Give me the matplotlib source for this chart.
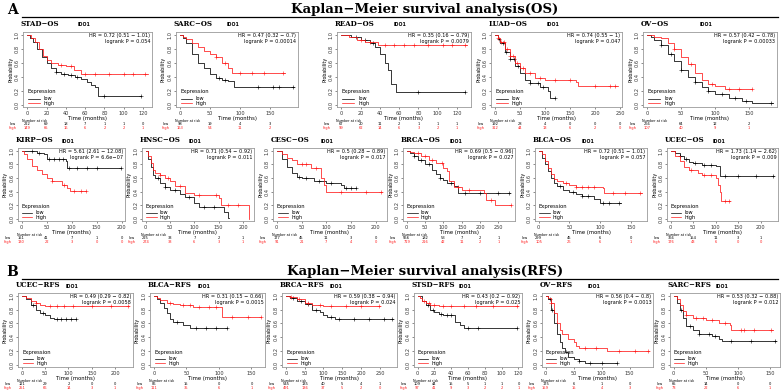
import numpy as np
import matplotlib
matplotlib.use('Agg')
import matplotlib.pyplot as plt
from matplotlib.transforms import blended_transform_factory

# ---- 數據 (由圖讀出的估計值) ----
# 每條曲線: (時間, 存活率) 階梯節點; *_CENS: 刪失時間
STAD_OS_LOW = [(0, 1.0), (3, 0.95), (6, 0.9), (10, 0.8), (15, 0.68), (20, 0.6), (25, 0.52), (30, 0.47),
               (35, 0.44), (42, 0.42), (50, 0.4), (56, 0.37), (62, 0.33), (66, 0.29), (70, 0.25), (73, 0.12), (118, 0.12)]
STAD_OS_HIGH = [(0, 1.0), (4, 0.95), (8, 0.9), (12, 0.8), (16, 0.7), (20, 0.64), (25, 0.6), (32, 0.57),
                (40, 0.55), (48, 0.5), (56, 0.44), (125, 0.44)]
STAD_OS_LOW_CENS = [30, 38, 45, 52, 80, 118]
STAD_OS_HIGH_CENS = [35, 45, 60, 70, 85, 100, 110, 122]

SARC_OS_LOW = [(0, 1.0), (5, 0.95), (10, 0.88), (20, 0.72), (30, 0.6), (40, 0.52), (50, 0.44), (60, 0.38),
               (70, 0.36), (80, 0.34), (90, 0.25), (190, 0.25)]
SARC_OS_HIGH = [(0, 1.0), (5, 0.97), (10, 0.94), (20, 0.88), (30, 0.82), (40, 0.77), (50, 0.73), (60, 0.68),
                (70, 0.6), (80, 0.52), (86, 0.46), (175, 0.46)]
SARC_OS_LOW_CENS = [65, 75, 130, 155, 165, 188]
SARC_OS_HIGH_CENS = [60, 75, 100, 120, 140, 172]

READ_OS_LOW = [(0, 1.0), (10, 0.97), (20, 0.93), (30, 0.88), (35, 0.82), (40, 0.72), (45, 0.6), (48, 0.5),
               (52, 0.3), (57, 0.18), (128, 0.18)]
READ_OS_HIGH = [(0, 1.0), (8, 0.97), (16, 0.93), (25, 0.9), (38, 0.86), (130, 0.85)]
READ_OS_LOW_CENS = [15, 25, 33, 80, 128]
READ_OS_HIGH_CENS = [20, 30, 45, 55, 65, 75, 90, 105, 115, 128]

LUAD_OS_LOW = [(0, 1.0), (5, 0.94), (10, 0.88), (20, 0.76), (30, 0.65), (40, 0.56), (50, 0.45), (60, 0.35),
               (70, 0.31), (90, 0.25), (105, 0.2), (110, 0.1), (120, 0.1)]
LUAD_OS_HIGH = [(0, 1.0), (5, 0.95), (10, 0.9), (20, 0.8), (30, 0.7), (40, 0.6), (50, 0.52), (60, 0.46),
                (80, 0.38), (100, 0.35), (162, 0.33), (165, 0.27), (245, 0.27)]
LUAD_OS_LOW_CENS = [8, 15, 22, 30, 38, 45, 70, 85, 95, 120]
LUAD_OS_HIGH_CENS = [6, 12, 18, 24, 30, 36, 44, 55, 70, 90, 120, 150, 200, 230, 240]

OV_OS_LOW = [(0, 1.0), (5, 0.97), (10, 0.93), (20, 0.85), (30, 0.72), (40, 0.62), (50, 0.5), (60, 0.4),
             (70, 0.32), (80, 0.25), (90, 0.2), (100, 0.15), (120, 0.1), (140, 0.06), (155, 0.03), (185, 0.03)]
OV_OS_HIGH = [(0, 1.0), (10, 0.97), (20, 0.95), (30, 0.88), (40, 0.8), (50, 0.68), (60, 0.58), (70, 0.45),
              (80, 0.35), (90, 0.3), (100, 0.27), (115, 0.22), (155, 0.22)]
OV_OS_LOW_CENS = [20, 35, 50, 70, 90, 110, 130, 145, 183]
OV_OS_HIGH_CENS = [40, 65, 95, 120, 135, 155]

KIRP_OS_LOW = [(0, 1.0), (10, 0.99), (30, 0.97), (45, 0.95), (50, 0.88), (88, 0.85), (91, 0.75), (198, 0.75)]
KIRP_OS_HIGH = [(0, 1.0), (5, 0.95), (10, 0.88), (20, 0.78), (30, 0.72), (40, 0.66), (50, 0.6), (60, 0.56),
                (80, 0.5), (90, 0.45), (96, 0.41), (128, 0.41)]
KIRP_OS_LOW_CENS = [20, 35, 55, 65, 75, 82, 95, 110, 130, 150, 198]
KIRP_OS_HIGH_CENS = [60, 85, 105, 118, 128]

HNSC_OS_LOW = [(0, 1.0), (5, 0.88), (10, 0.76), (15, 0.65), (20, 0.6), (30, 0.52), (40, 0.47), (50, 0.43),
               (70, 0.36), (80, 0.32), (100, 0.24), (110, 0.17), (160, 0.1), (170, 0.02), (172, 0.02)]
HNSC_OS_HIGH = [(0, 1.0), (5, 0.92), (10, 0.82), (15, 0.72), (20, 0.68), (30, 0.64), (40, 0.6), (50, 0.56),
                (60, 0.48), (80, 0.38), (100, 0.35), (150, 0.3), (155, 0.2), (212, 0.0), (213, 0.0)]
HNSC_OS_LOW_CENS = [25, 40, 60, 90, 120, 140]
HNSC_OS_HIGH_CENS = [30, 45, 70, 110, 145, 170, 190]

CESC_OS_LOW = [(0, 1.0), (10, 0.88), (20, 0.76), (30, 0.67), (40, 0.62), (50, 0.6), (75, 0.56), (100, 0.52),
               (130, 0.5), (135, 0.46), (160, 0.46)]
CESC_OS_HIGH = [(0, 1.0), (10, 0.95), (20, 0.9), (30, 0.86), (40, 0.8), (70, 0.75), (90, 0.6), (95, 0.5),
                (100, 0.4), (213, 0.39)]
CESC_OS_LOW_CENS = [45, 60, 85, 110, 140, 150, 160]
CESC_OS_HIGH_CENS = [50, 60, 80, 130, 180, 210]

BRCA_OS_LOW = [(0, 1.0), (10, 0.97), (20, 0.92), (30, 0.87), (50, 0.8), (70, 0.72), (80, 0.66), (90, 0.6),
               (100, 0.57), (110, 0.53), (130, 0.48), (140, 0.38), (280, 0.38)]
BRCA_OS_HIGH = [(0, 1.0), (10, 0.98), (20, 0.96), (40, 0.92), (60, 0.86), (80, 0.82), (100, 0.75), (110, 0.7),
                (115, 0.55), (130, 0.47), (150, 0.43), (210, 0.38), (215, 0.28), (240, 0.2), (285, 0.2)]
BRCA_OS_LOW_CENS = [20, 40, 60, 90, 120, 160, 200, 250, 278]
BRCA_OS_HIGH_CENS = [30, 50, 70, 95, 140, 170, 230, 283]

BLCA_OS_LOW = [(0, 1.0), (5, 0.9), (10, 0.8), (15, 0.7), (20, 0.6), (25, 0.52), (30, 0.48), (40, 0.43),
               (50, 0.4), (60, 0.36), (70, 0.33), (90, 0.29), (100, 0.24), (133, 0.24)]
BLCA_OS_HIGH = [(0, 1.0), (5, 0.95), (10, 0.85), (15, 0.75), (20, 0.66), (25, 0.58), (30, 0.55), (40, 0.53),
                (50, 0.5), (60, 0.47), (104, 0.46), (106, 0.38), (168, 0.38)]
BLCA_OS_LOW_CENS = [35, 55, 70, 80, 105, 115, 130]
BLCA_OS_HIGH_CENS = [45, 60, 70, 80, 90, 120, 140, 165]

UCEC_OS_LOW = [(0, 1.0), (10, 0.97), (20, 0.92), (30, 0.88), (40, 0.84), (50, 0.82), (70, 0.79), (100, 0.77),
               (110, 0.63), (230, 0.63)]
UCEC_OS_HIGH = [(0, 1.0), (10, 0.93), (20, 0.85), (30, 0.76), (40, 0.72), (60, 0.68), (70, 0.65), (100, 0.6),
                (105, 0.5), (110, 0.4), (112, 0.26), (132, 0.26)]
UCEC_OS_LOW_CENS = [20, 35, 55, 75, 90, 120, 150, 190, 228]
UCEC_OS_HIGH_CENS = [45, 75, 90, 120, 130]

UCEC_RFS_LOW = [(0, 1.0), (10, 0.95), (20, 0.87), (30, 0.8), (40, 0.75), (50, 0.72), (60, 0.68), (70, 0.66),
                (115, 0.66)]
UCEC_RFS_HIGH = [(0, 1.0), (10, 0.97), (20, 0.92), (30, 0.89), (40, 0.87), (50, 0.85), (230, 0.85)]
UCEC_RFS_LOW_CENS = [25, 45, 75, 85, 95, 105, 115]
UCEC_RFS_HIGH_CENS = [30, 60, 75, 90, 110, 150, 190, 228]

BLCA_RFS_LOW = [(0, 1.0), (5, 0.95), (10, 0.9), (15, 0.82), (20, 0.75), (25, 0.67), (30, 0.62), (45, 0.58),
                (55, 0.53), (112, 0.53)]
BLCA_RFS_HIGH = [(0, 1.0), (5, 0.97), (10, 0.94), (20, 0.9), (30, 0.88), (40, 0.87), (60, 0.84), (102, 0.84),
                 (104, 0.7), (165, 0.7)]
BLCA_RFS_LOW_CENS = [35, 65, 80, 95, 112]
BLCA_RFS_HIGH_CENS = [25, 45, 55, 70, 85, 95, 120, 145, 165]

BRCA_RFS_LOW = [(0, 1.0), (10, 0.97), (30, 0.93), (50, 0.88), (70, 0.8), (90, 0.77), (100, 0.72), (110, 0.7),
                (130, 0.66), (285, 0.66)]
BRCA_RFS_HIGH = [(0, 1.0), (10, 0.98), (30, 0.95), (50, 0.9), (70, 0.87), (80, 0.86), (100, 0.85), (250, 0.85)]
BRCA_RFS_LOW_CENS = [20, 40, 60, 80, 120, 140, 180, 220, 260, 283]
BRCA_RFS_HIGH_CENS = [15, 35, 60, 90, 120, 160, 200, 248]

STSD_RFS_LOW = [(0, 1.0), (5, 0.93), (10, 0.87), (15, 0.8), (20, 0.76), (25, 0.73), (30, 0.72), (42, 0.72),
                (44, 0.62), (50, 0.58), (55, 0.53), (118, 0.53)]
STSD_RFS_HIGH = [(0, 1.0), (3, 0.97), (5, 0.93), (10, 0.89), (15, 0.86), (25, 0.85), (120, 0.85)]
STSD_RFS_LOW_CENS = [12, 18, 28, 35, 40, 60, 72, 118]
STSD_RFS_HIGH_CENS = [8, 14, 20, 30, 40, 55, 70, 90, 118]

OV_RFS_LOW = [(0, 1.0), (5, 0.95), (10, 0.8), (15, 0.6), (20, 0.45), (25, 0.33), (30, 0.25), (35, 0.18),
              (40, 0.12), (50, 0.08), (60, 0.05), (70, 0.03), (128, 0.03)]
OV_RFS_HIGH = [(0, 1.0), (5, 0.97), (10, 0.9), (15, 0.75), (20, 0.6), (25, 0.5), (30, 0.44), (40, 0.37),
               (50, 0.33), (55, 0.28), (60, 0.24), (110, 0.2), (185, 0.2)]
OV_RFS_LOW_CENS = [8, 12, 60, 80, 100, 128]
OV_RFS_HIGH_CENS = [10, 70, 90, 130, 160, 183]

SARC_RFS_LOW = [(0, 1.0), (5, 0.9), (10, 0.8), (15, 0.68), (20, 0.57), (30, 0.5), (40, 0.44), (60, 0.42),
                (70, 0.37), (75, 0.34), (160, 0.34)]
SARC_RFS_HIGH = [(0, 1.0), (5, 0.95), (10, 0.86), (15, 0.78), (20, 0.72), (30, 0.68), (50, 0.65), (70, 0.6),
                 (88, 0.58), (90, 0.5), (155, 0.5)]
SARC_RFS_LOW_CENS = [12, 25, 40, 55, 65, 90, 120, 158]
SARC_RFS_HIGH_CENS = [20, 35, 45, 60, 80, 105, 110, 125, 152]

PANEL_NAMES = ['STAD−OS', 'SARC−OS', 'READ−OS', 'LUAD−OS', 'OV−OS',
               'KIRP−OS', 'HNSC−OS', 'CESC−OS', 'BRCA−OS', 'BLCA−OS', 'UCEC−OS',
               'UCEC−RFS', 'BLCA−RFS', 'BRCA−RFS', 'STSD−RFS', 'OV−RFS', 'SARC−RFS']
HR_TEXT = ['0.72 (0.51 − 1.01)', '0.47 (0.32 − 0.7)', '0.35 (0.16 − 0.79)', '0.74 (0.55 − 1)', '0.57 (0.42 − 0.78)',
           '5.61 (2.61 − 12.08)', '0.71 (0.54 − 0.92)', '0.5 (0.28 − 0.89)', '0.69 (0.5 − 0.96)',
           '0.72 (0.51 − 1.01)', '1.73 (1.14 − 2.62)',
           '0.49 (0.29 − 0.82)', '0.31 (0.15 − 0.66)', '0.59 (0.38 − 0.94)', '0.43 (0.2 − 0.92)',
           '0.56 (0.4 − 0.8)', '0.53 (0.32 − 0.88)']
P_TEXT = ['0.054', '0.00014', '0.0079', '0.047', '0.00033',
          '6.6e−07', '0.011', '0.017', '0.027', '0.057', '0.009',
          '0.0058', '0.0015', '0.024', '0.025', '0.0013', '0.012']
XTICKS = [[0, 20, 40, 60, 80, 100, 120], [0, 50, 100, 150], [0, 20, 40, 60, 80, 100, 120],
          [0, 50, 100, 150, 200, 250], [0, 50, 100, 150],
          [0, 50, 100, 150, 200], [0, 50, 100, 150, 200], [0, 50, 100, 150, 200],
          [0, 50, 100, 150, 200, 250], [0, 50, 100, 150], [0, 50, 100, 150, 200],
          [0, 50, 100, 150, 200], [0, 50, 100, 150], [0, 50, 100, 150, 200, 250],
          [0, 20, 40, 60, 80, 100, 120], [0, 50, 100, 150], [0, 50, 100, 150]]
XMAX = [125, 190, 130, 245, 185, 200, 215, 215, 285, 170, 230, 230, 165, 285, 120, 185, 160]
RISK_LOW = [[222, 69, 18, 7, 1, 1, 0], [98, 19, 4, 3], [67, 20, 11, 2, 1, 1, 1], [192, 28, 4, 0, 0, 0],
            [266, 64, 12, 2],
            [151, 41, 7, 1, 0], [225, 33, 7, 2, 1], [177, 45, 11, 3, 0], [556, 182, 53, 7, 2, 1],
            [299, 45, 6, 0], [366, 154, 11, 3, 1],
            [121, 29, 2, 0, 0], [86, 15, 0, 0], [545, 135, 40, 5, 4, 1], [109, 44, 15, 5, 1, 1, 0],
            [175, 6, 1, 0], [65, 14, 0, 0]]
RISK_HIGH = [[149, 65, 16, 6, 2, 2, 1], [163, 54, 11, 2], [99, 62, 14, 6, 3, 2, 1], [312, 44, 13, 6, 2, 0],
             [107, 40, 9, 1],
             [130, 22, 3, 0, 0], [274, 33, 6, 3, 1], [91, 21, 7, 4, 0], [719, 216, 42, 11, 2, 1],
             [105, 26, 6, 1], [176, 43, 6, 0, 0],
             [251, 66, 14, 3, 1], [111, 35, 6, 1], [491, 136, 37, 5, 2, 0], [97, 41, 9, 3, 2, 2, 1],
             [159, 15, 4, 3], [73, 22, 6, 1]]

CURVES = [(STAD_OS_LOW, STAD_OS_HIGH, STAD_OS_LOW_CENS, STAD_OS_HIGH_CENS),
          (SARC_OS_LOW, SARC_OS_HIGH, SARC_OS_LOW_CENS, SARC_OS_HIGH_CENS),
          (READ_OS_LOW, READ_OS_HIGH, READ_OS_LOW_CENS, READ_OS_HIGH_CENS),
          (LUAD_OS_LOW, LUAD_OS_HIGH, LUAD_OS_LOW_CENS, LUAD_OS_HIGH_CENS),
          (OV_OS_LOW, OV_OS_HIGH, OV_OS_LOW_CENS, OV_OS_HIGH_CENS),
          (KIRP_OS_LOW, KIRP_OS_HIGH, KIRP_OS_LOW_CENS, KIRP_OS_HIGH_CENS),
          (HNSC_OS_LOW, HNSC_OS_HIGH, HNSC_OS_LOW_CENS, HNSC_OS_HIGH_CENS),
          (CESC_OS_LOW, CESC_OS_HIGH, CESC_OS_LOW_CENS, CESC_OS_HIGH_CENS),
          (BRCA_OS_LOW, BRCA_OS_HIGH, BRCA_OS_LOW_CENS, BRCA_OS_HIGH_CENS),
          (BLCA_OS_LOW, BLCA_OS_HIGH, BLCA_OS_LOW_CENS, BLCA_OS_HIGH_CENS),
          (UCEC_OS_LOW, UCEC_OS_HIGH, UCEC_OS_LOW_CENS, UCEC_OS_HIGH_CENS),
          (UCEC_RFS_LOW, UCEC_RFS_HIGH, UCEC_RFS_LOW_CENS, UCEC_RFS_HIGH_CENS),
          (BLCA_RFS_LOW, BLCA_RFS_HIGH, BLCA_RFS_LOW_CENS, BLCA_RFS_HIGH_CENS),
          (BRCA_RFS_LOW, BRCA_RFS_HIGH, BRCA_RFS_LOW_CENS, BRCA_RFS_HIGH_CENS),
          (STSD_RFS_LOW, STSD_RFS_HIGH, STSD_RFS_LOW_CENS, STSD_RFS_HIGH_CENS),
          (OV_RFS_LOW, OV_RFS_HIGH, OV_RFS_LOW_CENS, OV_RFS_HIGH_CENS),
          (SARC_RFS_LOW, SARC_RFS_HIGH, SARC_RFS_LOW_CENS, SARC_RFS_HIGH_CENS)]

# ---- 版面 (像素) ----
W, H = 784, 391
ROWS = [(32, 107, [(23, 152), (176, 298), (337, 471), (491, 622), (643, 777)]),
        (148, 221, [(18, 125), (142, 254), (273, 387), (403, 515), (535, 647), (667, 778)]),
        (293, 367, [(18, 133), (150, 265), (282, 397), (414, 522), (542, 653), (670, 780)])]

RED = '#ff1a1a'
FRAME = '#9a9a9a'
SERIF = ['DejaVu Serif']

fig = plt.figure(figsize=(W / 100, H / 100), dpi=100)
fig.patch.set_facecolor('white')


def fy(ypx):
    return 1 - ypx / H


def draw_curve(ax, pts, cens, color):
    t = np.array([p[0] for p in pts], dtype=float)
    s = np.array([p[1] for p in pts], dtype=float)
    ax.step(t, s, where='post', color=color, lw=0.55)
    c = np.array(cens, dtype=float)
    idx = np.searchsorted(t, c, side='right') - 1
    ax.plot(c, s[idx], ls='none', marker='+', ms=2.2, mew=0.4, color=color)


def draw_panel(i, left, right, top, bottom):
    ax = fig.add_axes([left / W, fy(bottom), (right - left) / W, (bottom - top) / H])
    low, high, low_c, high_c = CURVES[i]
    draw_curve(ax, low, low_c, 'black')
    draw_curve(ax, high, high_c, RED)

    xmax = XMAX[i]
    ax.set_xlim(-0.035 * xmax, 1.035 * xmax)
    ax.set_ylim(-0.03, 1.04)
    ax.set_xticks(XTICKS[i])
    ax.set_yticks([0, 0.2, 0.4, 0.6, 0.8, 1.0])
    ax.set_yticklabels(['0.0', '0.2', '0.4', '0.6', '0.8', '1.0'], rotation=90, va='center')
    ax.tick_params(labelsize=3.6, length=1.6, width=0.4, pad=1, colors='#333333')
    for sp in ax.spines.values():
        sp.set_color(FRAME)
        sp.set_linewidth(0.6)
    ax.set_xlabel('Time (months)', fontsize=3.8, labelpad=0.5)
    ax.set_ylabel('Probability', fontsize=3.4, labelpad=1)

    # 標題
    ax.text(-0.02, 1.05, PANEL_NAMES[i], transform=ax.transAxes, fontsize=5.0,
            fontweight='bold', family=SERIF, ha='left', va='bottom')
    ax.text(0.47, 1.06, 'IDO1', transform=ax.transAxes, fontsize=3.4,
            fontweight='bold', ha='center', va='bottom')

    # HR
    ax.text(0.985, 0.95, 'HR = ' + HR_TEXT[i], transform=ax.transAxes, fontsize=3.6,
            ha='right', va='center')
    ax.text(0.985, 0.87, 'logrank P = ' + P_TEXT[i], transform=ax.transAxes, fontsize=3.6,
            ha='right', va='center')

    # 圖例
    ax.text(0.035, 0.2, 'Expression', transform=ax.transAxes, fontsize=3.8, va='center')
    ax.plot([0.04, 0.13], [0.11, 0.11], transform=ax.transAxes, color='black', lw=0.5)
    ax.plot([0.04, 0.13], [0.05, 0.05], transform=ax.transAxes, color=RED, lw=0.5)
    ax.text(0.16, 0.11, 'low', transform=ax.transAxes, fontsize=3.6, va='center')
    ax.text(0.16, 0.05, 'high', transform=ax.transAxes, fontsize=3.6, va='center')

    # 風險人數
    tr = blended_transform_factory(ax.transData, fig.transFigure)
    fig.text(left / W - 0.001, fy(bottom + 13.8), 'Number at risk', fontsize=2.4,
             ha='left', va='center')
    fig.text((left - 10) / W, fy(bottom + 17.3), 'low', fontsize=2.6, ha='center', va='center')
    fig.text((left - 10) / W, fy(bottom + 20.8), 'high', fontsize=2.6, ha='center', va='center',
             color=RED)
    for x, n in zip(XTICKS[i], RISK_LOW[i]):
        ax.text(x, fy(bottom + 17.3), str(n), transform=tr, fontsize=2.6, ha='center', va='center',
                clip_on=False)
    for x, n in zip(XTICKS[i], RISK_HIGH[i]):
        ax.text(x, fy(bottom + 20.8), str(n), transform=tr, fontsize=2.6, ha='center', va='center',
                color=RED, clip_on=False)
    return ax


k = 0
for top, bottom, boxes in ROWS:
    for left, right in boxes:
        draw_panel(k, left, right, top, bottom)
        k += 1

# 區塊標題
for letter, title, ypx, lpx in [('A', 'Kaplan−Meier survival analysis(OS)', 10, 17),
                                ('B', 'Kaplan−Meier survival analysis(RFS)', 272, 279)]:
    fig.text(12 / W, fy(ypx), letter, fontsize=10, fontweight='bold', family=SERIF,
             ha='center', va='center')
    fig.text(425 / W, fy(ypx - 1), title, fontsize=9.5, fontweight='bold', family=SERIF,
             ha='center', va='center')
    fig.add_artist(plt.Line2D([22 / W, 778 / W], [fy(lpx), fy(lpx)], color='black', lw=0.9))

fig.savefig('out.png', dpi=100, facecolor='white')
